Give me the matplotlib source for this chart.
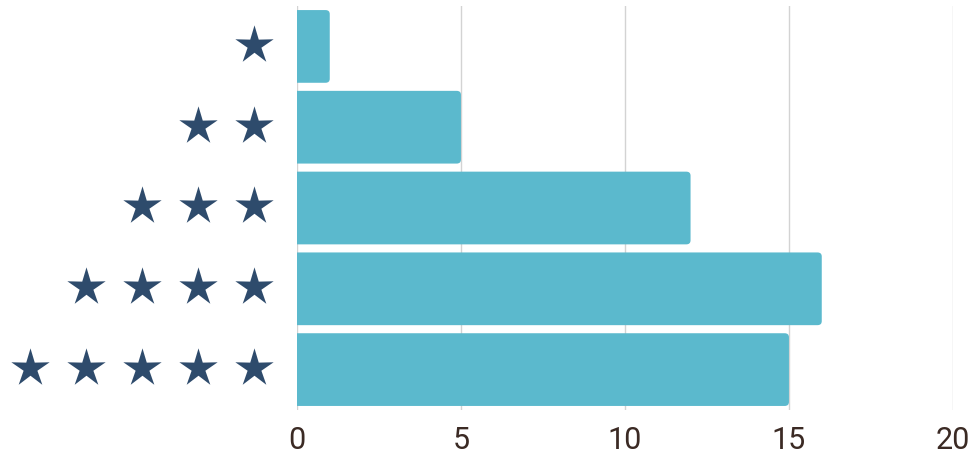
import matplotlib.pyplot as plt
import numpy as np
from matplotlib.patches import FancyBboxPatch
from matplotlib.path import Path

# ratings (number of stars) and how many reviews each got
ratings = [1, 2, 3, 4, 5]
counts = [1, 5, 12, 16, 15]
x_ticks = [0, 5, 10, 15, 20]

bar_color = '#5bb9cd'
star_color = '#2e4b6c'
text_color = '#3b2a24'

fig = plt.figure(figsize=(9.73, 4.56), dpi=100)
ax = fig.add_axes([0.3052, 0.0987, 0.6742, 0.8859])

# y positions: 1 star on top
ypos = [len(ratings) - r for r in ratings]
bar_h = 0.9

# rounded right end, left end hidden behind x=0
for y, c in zip(ypos, counts):
    patch = FancyBboxPatch((-1, y - bar_h / 2), c + 1, bar_h,
                           boxstyle='round,pad=0,rounding_size=0.13',
                           mutation_aspect=0.38,
                           facecolor=bar_color, edgecolor='none', zorder=3)
    ax.add_patch(patch)

ax.set_xlim(0, 20)
ax.set_ylim(-0.5, len(ratings) - 0.5)
ax.set_xticks(x_ticks)
ax.set_xticklabels([str(t) for t in x_ticks])
ax.set_yticks([])
ax.tick_params(axis='x', length=0, pad=11, labelsize=22, labelcolor=text_color)
for lbl in ax.get_xticklabels():
    lbl.set_family(['Roboto', 'DejaVu Sans'])

ax.grid(axis='x', color='#d3d3d3', linewidth=1, zorder=0)
for s in ax.spines.values():
    s.set_visible(False)

# slimmer five point star than the default '*' marker
ang = np.pi / 2 + np.arange(10) * np.pi / 5
rad = np.where(np.arange(10) % 2 == 0, 1.0, 0.36)
verts = np.column_stack([rad * np.cos(ang), rad * np.sin(ang)])
verts = np.vstack([verts, verts[:1]])
star = Path(verts, [Path.MOVETO] + [Path.LINETO] * 9 + [Path.CLOSEPOLY])

# stars as y labels
tr = ax.get_yaxis_transform()
for y, r in zip(ypos, ratings):
    xs = [-0.0655 - 0.0854 * i for i in range(r)]
    ax.scatter(xs, [y + 0.02] * r, marker=star, s=29 ** 2, color=star_color,
               transform=tr, clip_on=False, linewidths=0, zorder=4)

fig.savefig('out.png', dpi=100)
